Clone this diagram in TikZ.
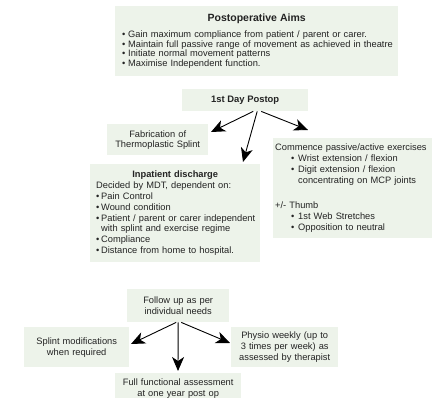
\documentclass[tikz,border=0pt]{standalone}
\usepackage{fontspec}
\setmainfont{Liberation Sans}
\usetikzlibrary{arrows.meta}
\definecolor{boxfill}{RGB}{237,243,234}
\definecolor{txt}{RGB}{35,35,35}
\newcommand\bul[1][6pt]{\makebox[#1][l]{\textbullet}}
\begin{document}
\begin{tikzpicture}[x=1pt,y=-1pt,
  box/.style={fill=boxfill, inner ysep=0pt, inner xsep=2pt, anchor=north west, text=txt,
              font=\fontsize{9.3}{10.8}\selectfont},
  arr/.style={-{Stealth[length=14pt,width=12pt,inset=4pt]}, line width=0.9pt, black}]
\clip (0,0) rectangle (432,398);
\useasboundingbox (0,0) rectangle (432,398);

\node[box, minimum width=283pt, minimum height=70pt, inner xsep=7pt, text width=269pt, align=left,
      font=\fontsize{9.3}{9.9}\selectfont] (aims) at (115,6)
 {\makebox[269pt][c]{\fontsize{10.5}{12}\selectfont\bfseries Postoperative Aims}\\[6pt]
  \bul\mbox{Gain maximum compliance from patient / parent or carer.}\\
  \bul\mbox{Maintain full passive range of movement as achieved in theatre}\\
  \bul Initiate normal movement patterns\\
  \bul Maximise Independent function.};

\node[box, minimum width=126pt, minimum height=22pt, align=center,
      font=\fontsize{9.4}{11}\selectfont\bfseries] (day) at (182,89) {1st Day Postop};

\node[box, minimum width=101pt, minimum height=31pt, text width=97pt, align=center,
      font=\fontsize{9.3}{9.8}\selectfont] (fab) at (107,124)
 {Fabrication of\\Thermoplastic Splint};

\node[box, minimum width=160pt, minimum height=100pt, text width=156pt, align=left] (com) at (273,138)
 {\mbox{Commence passive/active exercises}\\
  \hspace*{16pt}\bul[7pt]Wrist extension / flexion\\
  \hspace*{16pt}\bul[7pt]Digit extension / flexion\\
  \hspace*{23pt}\mbox{concentrating on MCP joints}\\[15pt]
  +/- Thumb\\
  \hspace*{16pt}\bul[7pt]1st Web Stretches\\
  \hspace*{16pt}\bul[7pt]Opposition to neutral};

\node[box, minimum width=170pt, minimum height=98pt, inner xsep=6pt, text width=158pt, align=left] (inp) at (90,164)
 {\makebox[158pt][c]{\bfseries Inpatient discharge}\\
  \mbox{Decided by MDT, dependent on:}\\
  \bul[5pt]Pain Control\\
  \bul[5pt]Wound condition\\
  \bul[5pt]\mbox{Patient / parent or carer independent}\\
  \hspace*{5pt}\mbox{with splint and exercise regime}\\
  \bul[5pt]Compliance\\
  \bul[5pt]\mbox{Distance from home to hospital.}};

\node[box, minimum width=102pt, minimum height=33pt, text width=98pt, align=center] (fol) at (127,289)
 {Follow up as per\\individual needs};
\node[box, minimum width=105pt, minimum height=40pt, text width=101pt, align=center] (spl) at (24,327)
 {Splint modifications\\when required};
\node[box, minimum width=107pt, minimum height=40pt, text width=103pt, align=center] (phy) at (231,327)
 {Physio weekly (up to\\3 times per week) as\\assessed by therapist};
\node[box, minimum width=126pt, minimum height=30pt, text width=122pt, align=center] (ful) at (115,373)
 {Full functional assessment\\at one year post op};

\coordinate (tfab) at (211,132);
\coordinate (tinp) at (243,162);
\coordinate (tcom) at (308,130);
\coordinate (tspl) at (131,344);
\coordinate (tful) at (178,371);
\coordinate (tphy) at (230,343);

\draw[arr] ([xshift=8pt]day.south) -- (tfab);
\draw[arr] ([xshift=12pt]day.south) -- (tinp);
\draw[arr] ([xshift=16pt]day.south) -- (tcom);

\draw[arr] ([xshift=-2pt]fol.south) -- (tspl);
\draw[arr] (fol.south) -- (tful);
\draw[arr] ([xshift=3pt]fol.south) -- (tphy);
\end{tikzpicture}
\end{document}
